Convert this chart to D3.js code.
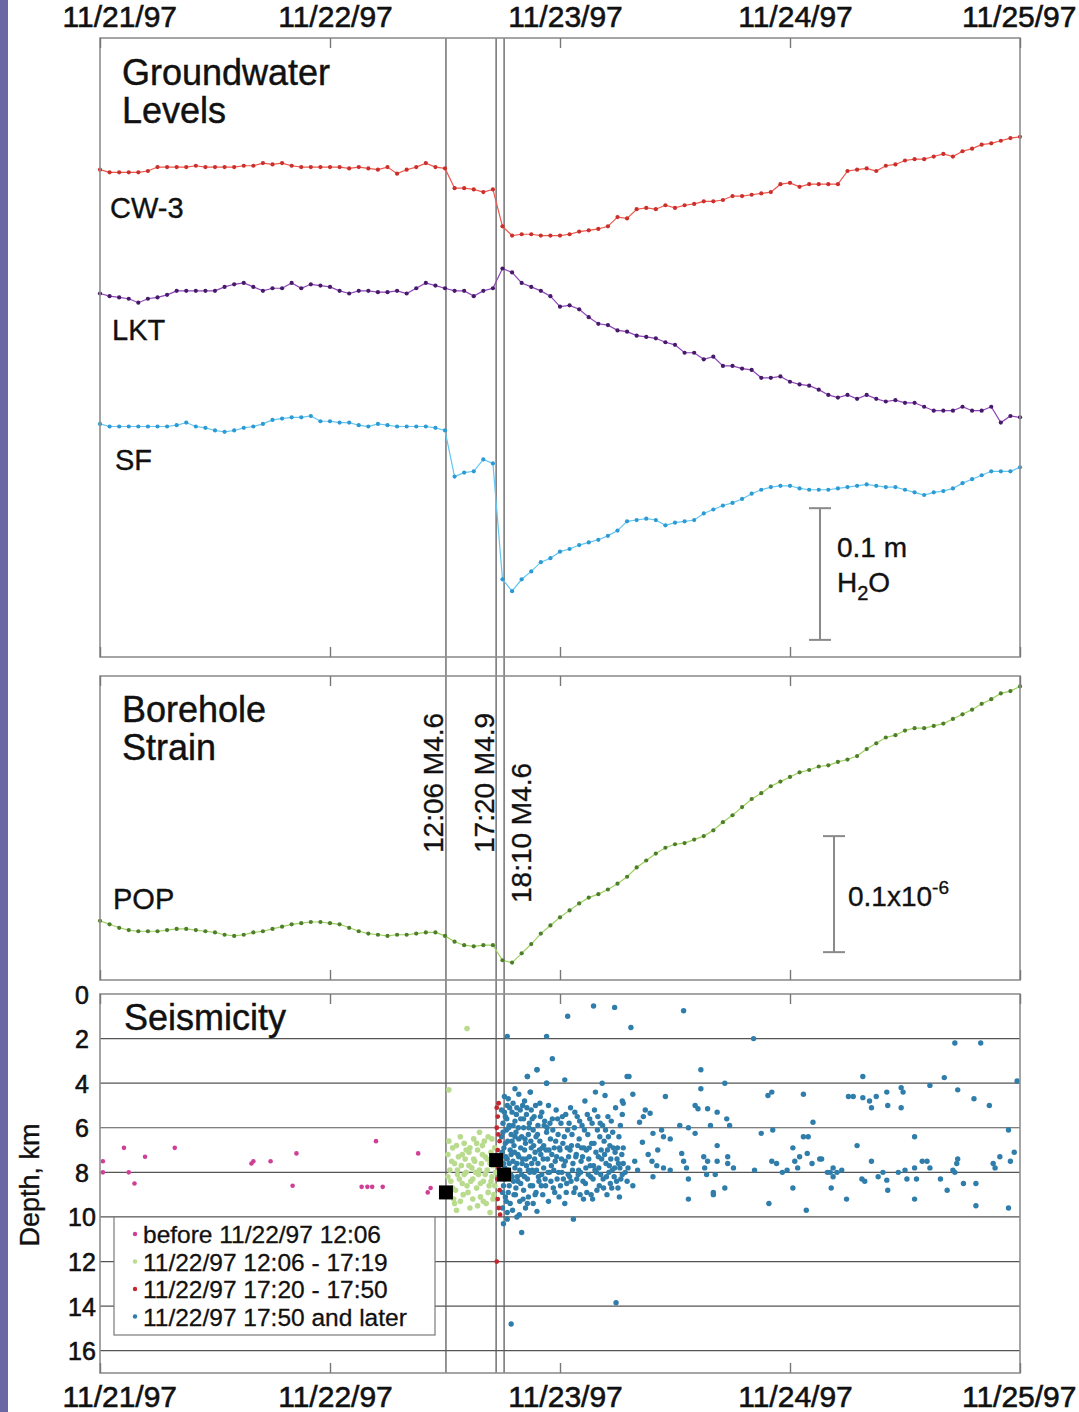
<!DOCTYPE html>
<html><head><meta charset="utf-8">
<script src="https://cdn.jsdelivr.net/npm/d3@7"></script>
<style>
html,body{margin:0;padding:0;background:#fff;}
svg{display:block;}
</style></head><body>
<svg id="chart" width="1079" height="1412"></svg>
<script>
// ---------------- DATA ----------------
const startTime = new Date(1997, 10, 21, 0, 0);
const endTime = new Date(1997, 10, 25, 0, 0);
const sampleStepHours = 1;            // hourly samples starting 11/21/97 00:00

// Groundwater level change (mm, relative to first sample)
const cw3 = [0,-2,-2,-2,-2,-1,2,2,2,2, 3,2,2,2,2,3,3,5,4,5, 3,2,2,2,2,2,1,2,1,0,
  2,-3,0,2,5,2,1,-14,-14,-15, -17,-15,-43,-50,-49,-49,-50,-50,-50,-49,
  -47,-46,-45,-43,-36,-37,-30,-29,-30,-27, -29,-27,-26,-24,-24,-23,-20,-20,-19,-18,
  -17,-11,-10,-13,-11,-11,-11,-11,-1,0, 1,-1,3,4,7,8,8,10,12,10, 14,16,19,20,22,24,25];
const lkt = [0,-2,-3,-4,-7,-4,-3,-1,2,2, 2,2,2,5,7,8,5,2,4,4, 8,4,7,6,5,2,0,2,2,1,
  1,2,0,4,8,6,4,2,2,-2, 2,4,19,16,8,5,2,-2,-10,-9,
  -12,-18,-23,-24,-28,-29,-32,-33,-34,-37, -39,-45,-45,-50,-48,-55,-55,-57,-58,-64,
  -64,-63,-67,-69,-70,-73,-77,-79,-77,-80, -77,-80,-82,-81,-83,-83,-86,-89,-89,-89,
  -86,-89,-89,-86,-98,-93,-94];
const sf = [0,-2,-2,-2,-2,-2,-2,-2,-1,1, -2,-3,-5,-6,-5,-3,-2,0,3,4, 5,5,6,2,2,1,1,-1,-2,0,
  -1,-2,-2,-2,-2,-3,-5,-40,-37,-36, -27,-30,-118,-127,-118,-112,-105,-102,-97,-95,
  -92,-90,-88,-85,-81,-74,-73,-72,-73,-77, -75,-74,-73,-68,-65,-62,-60,-57,-53,-50,
  -48,-47,-47,-49,-50,-50,-50,-49,-48,-47, -46,-47,-48,-48,-50,-52,-54,-52,-51,-49,
  -45,-42,-39,-36,-36,-36,-33];
// Borehole strain change (nanostrain, relative to first sample)
const pop = [0,-3,-6,-8,-9,-9,-9,-8,-7,-7, -8,-9,-10,-12,-13,-12,-10,-9,-7,-5,
  -3,-2,-1,-1,-2,-3,-6,-9,-11,-12, -13,-12,-12,-11,-10,-10,-13,-18,-21,-22,
  -21,-21,-34,-36,-28,-20,-11,-4,3,9, 15,20,23,27,32,38,46,52,58,63,
  66,67,70,73,78,85,91,98,105,110, 116,120,124,128,130,133,134,137,139,142,
  148,153,158,160,164,166,166,168,170,174, 178,182,187,191,196,198,202];

const seriesNames = ["CW-3", "LKT", "SF"];
const strainName = "POP";

// Earthquakes (hours since 11/21/97 00:00)
const eventHours = [36.1, 41.333, 42.167];
const eventLabels = ["12:06 M4.6", "17:20 M4.9", "18:10 M4.6"];
const mainshockDepths = [8.9, 7.45, 8.1];

// Seismicity: [hours since 11/21/97 00:00, depth km]
const quakesBefore = [[0.3,7.5],[0.3,8.0],[2.5,6.9],[3.0,8.0],[3.6,8.5],[4.7,7.3],[7.8,6.9],
  [15.8,7.6],[16.0,7.5],[17.8,7.5],[20.1,8.6],[20.5,7.15],[27.3,8.65],[27.9,8.65],[28.4,8.65],
  [28.8,6.6],[29.5,8.65],[33.2,7.15],[34.2,8.9],[34.5,8.7]];
const quakesEarly = [[36.3,7.2],[36.5,7.9],[36.6,8.4],[36.8,6.9],[37.0,7.6],[37.1,8.8],[37.3,8.1],
  [37.4,7.3],[37.6,9.3],[37.7,7.7],[37.8,8.5],[38.0,6.7],[38.1,7.4],[38.2,8.0],[38.4,8.9],[38.5,7.1],
  [38.6,9.6],[38.8,7.8],[38.9,8.3],[39.0,6.5],[39.1,7.5],[39.3,8.7],[39.4,7.0],[39.5,8.1],[39.7,9.1],
  [39.8,7.6],[39.9,6.8],[40.0,8.4],[40.2,7.3],[40.3,9.4],[40.4,7.9],[40.5,6.4],[40.6,8.6],[40.8,7.1],
  [40.9,8.2],[41.0,7.7],[41.1,9.0],[41.2,6.9],[37.2,9.7],[38.3,1.55],[36.4,4.3],[39.6,6.2],[40.7,9.8],
  [36.9,9.2],[41.3,8.0],
  [36.3,8.2],[36.4,6.6],[36.7,7.5],[36.8,8.7],[37.0,9.4],[37.2,6.8],[37.3,7.9],[37.5,8.3],[37.6,6.4],
  [37.8,7.2],[37.9,9.0],[38.0,8.1],[38.2,7.0],[38.3,8.6],[38.5,7.7],[38.6,6.9],[38.7,8.4],[38.9,9.2],
  [39.0,7.4],[39.2,8.0],[39.3,6.7],[39.4,9.5],[39.6,7.9],[39.7,8.5],[39.9,7.2],[40.0,9.3],[40.1,6.6],
  [40.2,8.1],[40.4,7.4],[40.5,8.9],[40.7,7.6],[40.8,8.4],[40.9,6.5],[41.0,9.2],[41.1,7.3],[41.2,8.6]];
const quakesMid = [[41.4,5.1],[41.5,5.5],[41.6,4.9],[41.4,6.0],[41.7,6.6],[41.5,7.0],[41.6,7.8],
  [41.45,8.3],[41.7,8.8],[41.5,9.2],[41.6,9.6],[41.75,9.9],[41.4,12.0],[41.55,6.3]];
const quakesLater = [
  [41.9,5.2],[41.9,6.4],[41.95,7.1],[42.0,8.9],[42.0,9.6],[42.05,5.8],[42.1,7.6],[42.1,10.3],[42.15,6.9],
  [42.2,8.3],[42.2,4.6],[42.3,5.5],[42.3,9.1],[42.35,7.3],[42.4,6.1],[42.4,8.0],[42.5,5.0],[42.5,9.8],
  [42.55,6.6],[42.6,7.9],[42.6,4.7],[42.7,8.6],[42.7,5.9],[42.8,7.0],[42.8,9.4],[42.9,6.3],[42.9,14.8],
  [43.0,5.3],[43.0,8.2],[43.1,7.5],[43.1,4.9],[43.2,6.8],[43.2,9.0],[43.3,5.7],[43.3,7.8],[43.4,8.7],
  [43.4,6.2],[43.5,10.0],[43.5,5.1],[43.6,7.2],[43.6,8.4],[43.7,6.5],[43.7,4.5],[43.8,7.9],[43.8,9.3],
  [43.9,5.6],[43.9,6.9],[44.0,10.7],[44.0,8.1],[44.1,7.4],[44.1,5.0],[44.2,6.0],[44.2,8.8],[44.3,7.0],
  [44.3,4.8],[44.4,9.6],[44.4,6.7],[44.5,5.4],[44.5,7.7],[44.6,3.7],[44.6,8.3],[44.7,6.3],[44.7,9.1],
  [44.8,5.8],[44.8,7.3],[44.9,4.4],[44.9,8.6],[45.0,6.9],[45.0,5.2],[45.1,7.9],[45.2,9.4],[45.2,6.1],
  [45.3,8.0],[45.3,5.5],[45.4,7.1],[45.5,8.9],[45.5,6.4],[45.6,3.4],[45.6,9.75],[45.7,5.9],[45.7,7.6],
  [45.8,8.4],[45.9,6.6],[45.9,4.9],[46.0,7.2],[46.1,8.1],[46.1,5.3],[46.2,9.0],[46.3,6.8],[46.3,7.8],
  [46.4,5.7],[46.5,8.6],[46.6,4.0],[46.6,6.2],[46.7,7.4],[46.8,9.3],[46.8,5.0],[46.9,8.0],[47.0,6.5],
  [47.1,7.7],[47.2,2.9],[47.2,5.6],[47.3,8.7],[47.4,6.9],[47.5,7.5],[47.6,5.2],[47.7,8.3],[47.8,6.3],
  [47.9,9.1],[48.0,7.0],[48.1,5.8],[48.2,8.0],[48.3,6.7],[48.4,7.7],[48.5,3.85],[48.5,9.4],[48.6,5.4],
  [48.7,8.5],[48.8,1.0],[48.8,6.1],[48.9,7.3],[49.0,8.2],[49.1,5.1],[49.2,6.8],[49.3,7.9],[49.4,10.1],
  [49.5,6.0],[49.6,8.7],[49.7,7.2],[49.8,5.5],[49.9,8.1],[50.0,6.5],[50.1,9.0],[50.2,7.5],[50.3,5.9],
  [50.4,8.4],[50.5,6.9],[50.6,4.8],[50.7,7.8],[50.8,8.9],[50.9,6.3],[51.0,7.4],[51.1,5.6],[51.2,8.2],
  [51.3,6.7],[51.4,9.2],[51.5,0.54],[51.5,7.7],[51.6,5.2],[51.7,4.4],[51.8,8.0],[51.9,6.1],[52.0,7.3],
  [52.1,8.6],[52.2,5.8],[52.3,7.0],[52.4,4.0],[52.5,8.3],[52.6,6.6],[52.7,4.55],[52.8,7.6],[52.9,9.0],
  [53.0,5.5],[53.1,8.0],[53.2,6.8],[53.3,7.4],[53.4,8.7],[53.5,6.2],[53.7,0.6],[53.7,7.8],[53.8,5.1],
  [53.85,13.85],[53.9,8.4],[54.0,6.9],[54.1,7.6],[54.2,9.1],[54.3,5.9],[54.5,4.8],[54.5,8.1],
  [42.5,10.1],[42.5,1.9],[46.6,1.9],[45.6,3.4],[44.6,3.7],[46.6,4.0],[55.0,3.7],[43.3,4.25],[44.9,4.4],
  [42.05,6.2],[42.1,8.6],[42.2,5.3],[42.25,7.8],[42.3,6.7],[42.4,9.3],[42.45,5.6],[42.5,7.4],[42.6,8.9],
  [42.65,6.0],[42.7,7.6],[42.75,5.1],[42.85,8.1],[42.9,7.2],[43.0,6.6],[43.05,9.7],[43.1,5.9],[43.15,8.4],
  [43.25,7.1],[43.3,6.4],[43.35,9.0],[43.45,5.4],[43.5,7.6],[43.55,8.2],[43.65,6.0],[43.7,7.3],[43.75,9.9],
  [43.85,5.2],[43.9,8.5],[44.0,6.4],[44.05,7.6],[44.15,9.2],[44.2,5.6],[44.3,8.2],[44.35,6.5],[44.45,7.4],
  [44.55,5.1],[44.6,9.4],[44.7,7.9],[44.75,6.0],[44.85,8.0],[44.95,6.6],[45.05,7.6],[45.1,5.6],[45.15,8.6],
  [45.25,6.8],[45.35,7.4],[45.4,9.0],[45.45,5.0],[45.55,7.9],[45.65,6.3],[45.75,8.2],[45.85,7.0],[45.95,5.5],
  [46.05,8.6],[46.15,6.9],[46.25,7.4],[46.35,5.9],[46.45,8.3],[46.55,7.0],[46.65,6.0],[46.75,8.0],[46.85,7.0],
  [46.95,5.8],[47.05,8.4],[47.15,7.2],[47.25,6.1],[47.35,7.9],[47.45,8.9],[47.55,6.6],[47.65,7.3],[47.75,5.6],
  [47.85,8.0],[47.95,6.9],[48.05,8.6],[48.15,7.4],[48.25,5.5],[48.35,8.3],[48.45,6.4],[48.55,7.5],[48.65,8.9],
  [48.75,6.9],[48.85,8.1],[48.95,5.8],[49.05,7.0],[49.15,8.4],[49.25,6.3],[49.35,7.6],[49.45,8.9],[49.55,5.3],
  [49.65,7.3],[49.75,8.3],[49.85,6.8],[49.95,7.9],[50.05,5.7],[50.15,8.0],[50.25,6.9],[50.35,7.3],[50.45,9.2],
  [50.55,6.1],[50.65,8.5],[50.75,7.0],[50.85,5.4],[50.95,8.1],[51.05,6.9],[51.15,7.7],[51.25,9.0],[51.35,5.8],
  [51.45,8.3],[51.55,6.7],[51.65,7.9],[51.75,7.1],[51.85,8.8],[51.95,5.5],[52.05,7.8],[52.15,6.4],[52.25,8.1],
  [52.35,7.4],[52.45,5.9],[52.55,8.7],[52.65,7.2],[52.75,6.1],[52.85,8.2],[52.95,7.0],[53.05,6.4],[53.15,7.7],
  [53.25,8.5],[53.35,5.7],[53.45,7.9],[53.55,6.9],[53.65,8.2],[53.75,7.1],[53.95,7.4],[54.05,8.7],[54.15,6.4],
  [54.25,7.8],[54.35,8.3],[54.45,7.2],
  [60.9,0.75],[55.4,1.5],[68.2,2.0],[55.2,3.7],[62.7,3.4],[65.2,4.0],[62.7,4.25],[55.6,4.5],[59.0,4.6],
  [69.7,4.55],[70.1,4.4],[73.4,4.5],[54.6,4.9],[54.5,5.4],[56.9,5.2],[56.7,5.5],[57.4,5.35],[56.3,5.75],
  [62.1,5.0],[62.4,5.15],[63.4,5.15],[64.4,5.3],[65.4,5.6],[65.7,5.9],[63.7,5.9],[60.5,5.9],[61.4,6.0],
  [62.1,6.25],[57.7,6.25],[58.6,6.1],[58.8,6.4],[59.5,6.5],[56.6,6.65],[54.6,6.9],[58.2,7.0],[64.4,6.8],
  [69.0,6.25],[70.2,6.1],[73.4,6.4],[73.9,6.4],[74.4,5.75],[54.6,7.6],[55.1,7.8],[55.8,7.5],[56.1,7.9],
  [54.8,8.0],[55.0,8.4],[55.6,8.6],[57.2,7.2],[57.6,7.5],[58.1,7.7],[57.7,8.2],[58.8,7.8],[59.5,7.9],
  [60.7,7.15],[60.9,7.5],[61.2,7.8],[61.4,8.3],[61.4,9.2],[63.0,7.3],[63.1,7.8],[63.4,7.5],[63.3,8.1],
  [64.4,7.5],[64.2,8.1],[64.0,8.9],[64.0,9.0],[65.2,8.7],[65.5,7.3],[65.5,7.6],[66.1,7.8],[68.3,7.9],
  [69.8,9.4],[70.1,7.5],[70.6,7.6],[71.2,8.0],[71.7,7.9],[72.3,6.9],[72.5,7.5],[73.0,7.3],[72.8,7.8],
  [72.3,8.7],[73.7,9.7],[73.8,7.15],[74.3,7.6],[75.1,7.4],[75.9,8.0],
  [89.2,2.2],[91.9,2.2],[79.6,3.7],[86.6,4.1],[88.1,3.75],[95.7,3.9],[89.5,4.3],[91.2,4.7],[92.8,5.0],
  [78.1,4.6],[78.6,4.6],[79.6,4.65],[80.3,4.8],[80.5,5.1],[81.0,4.6],[82.1,4.4],[82.2,5.0],[83.6,4.2],
  [83.8,4.4],[83.6,5.1],[85.0,6.4],[79.0,6.8],[94.8,6.1],[75.3,7.4],[76.5,7.8],[76.2,8.0],[76.9,8.0],
  [77.4,7.9],[76.5,8.2],[76.3,8.7],[77.9,9.2],[79.5,8.3],[79.8,8.4],[80.5,7.5],[81.2,8.2],[81.7,8.0],
  [82.1,8.35],[82.2,8.8],[83.3,8.0],[84.0,7.9],[84.2,8.3],[85.0,7.8],[85.2,8.3],[85.0,9.2],[85.8,7.5],
  [86.3,7.5],[86.6,7.8],[87.7,8.3],[88.4,8.8],[89.0,7.9],[89.4,7.6],[89.5,7.4],[89.2,8.0],[90.1,8.5],
  [91.4,8.5],[91.4,9.5],[93.2,7.6],[93.4,7.8],[93.9,7.3],[95.0,7.5],[95.4,7.1],[94.8,9.6]];

const legendLabels = ["before 11/22/97 12:06", "11/22/97 12:06 - 17:19", "11/22/97 17:20 - 17:50", "11/22/97 17:50 and later"];
const depthTicks = [0, 2, 4, 6, 8, 10, 12, 14, 16];

// ---------------- LAYOUT / STYLE ----------------
const W = 1079, H = 1412;
const FONT = "'Liberation Sans', Arial, Helvetica, sans-serif";
const L = 100, R = 1020;
const gw = {top: 38, bottom: 657};
const st = {top: 676, bottom: 980};
const sz = {top: 994, bottom: 1373};
const frameColor = "#8f8f8f";
const INK = "#111";

const svg = d3.select("#chart").attr("font-family", FONT);
svg.append("rect").attr("width", W).attr("height", H).attr("fill", "#fff");
svg.append("rect").attr("x", 0).attr("y", 0).attr("width", 8).attr("height", H).attr("fill", "#6a67a5");

const hourToDate = h => new Date(+startTime + h * 3600e3);
const x = d3.scaleTime().domain([startTime, endTime]).range([L, R]);
const yGW = d3.scaleLinear().domain([0, 470]).range([gw.bottom, gw.top]);   // mm
const yST = d3.scaleLinear().domain([0, 262]).range([st.bottom, st.top]);   // nanostrain
const ySZ = d3.scaleLinear().domain([0, 17]).range([sz.top, sz.bottom]);    // km

const days = d3.timeDay.range(startTime, d3.timeDay.offset(endTime, 1));

function label(sel, size, weight) {
  return sel.attr("font-size", size).attr("fill", INK).attr("stroke", INK).attr("stroke-width", weight == null ? 0.35 : weight);
}

// panel backgrounds
[gw, st, sz].forEach(p => {
  svg.append("rect").attr("x", L).attr("y", p.top).attr("width", R - L).attr("height", p.bottom - p.top)
    .attr("fill", "#fff");
});

// seismicity grid lines
svg.append("g").selectAll("line").data(depthTicks.filter(d => d > 0)).join("line")
  .attr("x1", L).attr("x2", R).attr("y1", d => ySZ(d)).attr("y2", d => ySZ(d))
  .attr("stroke", "#555").attr("stroke-width", 1.2);

// event lines
svg.append("g").selectAll("line").data(eventHours).join("line")
  .attr("x1", d => x(hourToDate(d))).attr("x2", d => x(hourToDate(d)))
  .attr("y1", gw.top).attr("y2", sz.bottom)
  .attr("stroke", "#5c5c5c").attr("stroke-width", 1.3);

// ---- groundwater series ----
const gwSeries = [
  {name: seriesNames[0], values: cw3, base: 370, line: "#f1564e", dot: "#c9302a", lx: 110, ly: 218},
  {name: seriesNames[1], values: lkt, base: 276, line: "#8e45b8", dot: "#46196b", lx: 112, ly: 340},
  {name: seriesNames[2], values: sf,  base: 177, line: "#62c6f2", dot: "#2c9ad5", lx: 115, ly: 470}
];
function drawSeries(s, yScale) {
  const line = d3.line()
    .x((v, i) => x(hourToDate(i * sampleStepHours)))
    .y(v => yScale(s.base + v));
  svg.append("path").datum(s.values).attr("d", line).attr("fill", "none")
    .attr("stroke", s.line).attr("stroke-width", 1.2);
  svg.append("g").selectAll("circle").data(s.values).join("circle")
    .attr("cx", (v, i) => x(hourToDate(i * sampleStepHours)))
    .attr("cy", v => yScale(s.base + v)).attr("r", 2.1).attr("fill", s.dot);
  label(svg.append("text").attr("x", s.lx).attr("y", s.ly), 29).text(s.name);
}
gwSeries.forEach(s => drawSeries(s, yGW));
drawSeries({name: strainName, values: pop, base: 51, line: "#9fd05e", dot: "#4d7f2a", lx: 113, ly: 909}, yST);

// ---- seismicity points ----
function quakeLayer(data, color, r) {
  svg.append("g").selectAll("circle").data(data).join("circle")
    .attr("cx", d => x(hourToDate(d[0]))).attr("cy", d => ySZ(d[1])).attr("r", r).attr("fill", color);
}
const quakeColors = ["#cf3f96", "#b9db8e", "#c42630", "#2f7dab"];
quakeLayer(quakesBefore, quakeColors[0], 2.3);
quakeLayer(quakesEarly, quakeColors[1], 2.8);
quakeLayer(quakesLater, quakeColors[3], 2.7);
quakeLayer(quakesMid, quakeColors[2], 2.4);
// mainshocks
svg.append("g").selectAll("rect").data(eventHours.map((h, i) => [h, mainshockDepths[i]])).join("rect")
  .attr("x", d => x(hourToDate(d[0])) - 7).attr("y", d => ySZ(d[1]) - 7)
  .attr("width", 14).attr("height", 14).attr("fill", "#000");

// ---- frames and inner day ticks ----
[gw, st, sz].forEach(p => {
  svg.append("rect").attr("x", L).attr("y", p.top).attr("width", R - L).attr("height", p.bottom - p.top)
    .attr("fill", "none").attr("stroke", frameColor).attr("stroke-width", 1.6);
  const gb = svg.append("g").attr("transform", `translate(0,${p.bottom})`)
    .call(d3.axisBottom(x).tickValues(days).tickSize(-10).tickFormat(""));
  const gt = svg.append("g").attr("transform", `translate(0,${p.top})`)
    .call(d3.axisTop(x).tickValues(days).tickSize(-10).tickFormat(""));
  [gb, gt].forEach(g => { g.select(".domain").remove(); g.selectAll("line").attr("stroke", "#777").attr("stroke-width", 1.4); });
});

// ---- date labels top & bottom ----
const fmt = d3.timeFormat("%m/%d/%y");
function dateLabels(gen, y) {
  const g = svg.append("g").attr("transform", `translate(0,${y})`)
    .call(gen.tickValues(days).tickFormat(fmt).tickSize(0).tickPadding(0));
  g.select(".domain").remove();
  g.attr("font-size", 30).attr("font-family", FONT);
  g.selectAll("text").attr("y", 0).attr("dy", 0).attr("fill", INK)
    .attr("stroke", INK).attr("stroke-width", 0.6);
  g.selectAll(".tick").each(function(d) {
    const t = d3.select(this).select("text");
    const w = t.node().getComputedTextLength();
    let c = x(d) + 5;
    c = Math.max(62 + w / 2, Math.min(1076 - w / 2, c));
    t.attr("x", c - x(d));
  });
}
dateLabels(d3.axisTop(x), 27);
dateLabels(d3.axisBottom(x), 1407);

// ---- depth axis ----
const ga = svg.append("g").attr("transform", "translate(82,0)")
  .call(d3.axisLeft(ySZ).tickValues(depthTicks).tickSize(0).tickPadding(0));
ga.select(".domain").remove();
ga.attr("font-size", 25).attr("font-family", FONT);
ga.selectAll("text").attr("x", 0).attr("text-anchor", "middle").attr("dy", "0.36em")
  .attr("fill", INK).attr("stroke", INK).attr("stroke-width", 0.6);
label(svg.append("text").attr("transform", "translate(39,1185) rotate(-90)").attr("text-anchor", "middle"), 27)
  .text("Depth, km");

// ---- panel titles ----
const titles = [
  {lines: ["Groundwater", "Levels"], x: 122, y: 85},
  {lines: ["Borehole", "Strain"], x: 122, y: 722},
  {lines: ["Seismicity"], x: 124, y: 1030}
];
titles.forEach(t => t.lines.forEach((s, i) => {
  label(svg.append("text").attr("x", t.x).attr("y", t.y + i * 38), 36, 0.45).text(s);
}));

// ---- event labels ----
const eventLabelLayout = [{dx: -3, y: 853}, {dx: -2, y: 853}, {dx: 27, y: 903}];
eventHours.forEach((h, i) => {
  const ex = x(hourToDate(h)) + eventLabelLayout[i].dx;
  label(svg.append("text").attr("transform", `translate(${ex},${eventLabelLayout[i].y}) rotate(-90)`), 28)
    .text(eventLabels[i]);
});

// ---- scale bars ----
function scaleBar(cx, y0, y1) {
  const g = svg.append("g").attr("stroke", "#8a8a8a").attr("stroke-width", 2);
  g.append("line").attr("x1", cx).attr("x2", cx).attr("y1", y0).attr("y2", y1);
  g.append("line").attr("x1", cx - 11).attr("x2", cx + 11).attr("y1", y0).attr("y2", y0);
  g.append("line").attr("x1", cx - 11).attr("x2", cx + 11).attr("y1", y1).attr("y2", y1);
}
scaleBar(820, yGW(13), yGW(113));
label(svg.append("text").attr("x", 837).attr("y", 557), 28).text("0.1 m");
const t2 = label(svg.append("text").attr("x", 837).attr("y", 592), 28);
t2.append("tspan").text("H");
t2.append("tspan").attr("font-size", 20).attr("dy", 8).text("2");
t2.append("tspan").attr("dy", -8).text("O");
scaleBar(834, yST(24), yST(124));
const t3 = label(svg.append("text").attr("x", 848).attr("y", 906), 28);
t3.append("tspan").text("0.1x10");
t3.append("tspan").attr("font-size", 19).attr("dy", -12).text("-6");

// ---- legend ----
const lg = svg.append("g");
lg.append("rect").attr("x", 114).attr("y", 1217).attr("width", 321).attr("height", 118)
  .attr("fill", "#fff").attr("stroke", "#7a7a7a").attr("stroke-width", 1.2);
legendLabels.forEach((s, i) => {
  const by = 1243 + i * 27.5;
  lg.append("circle").attr("cx", 135).attr("cy", by - 9).attr("r", 2.2).attr("fill", quakeColors[i]);
  label(lg.append("text").attr("x", 143).attr("y", by), 24.5, 0.3).text(s);
});
</script>
</body></html>
